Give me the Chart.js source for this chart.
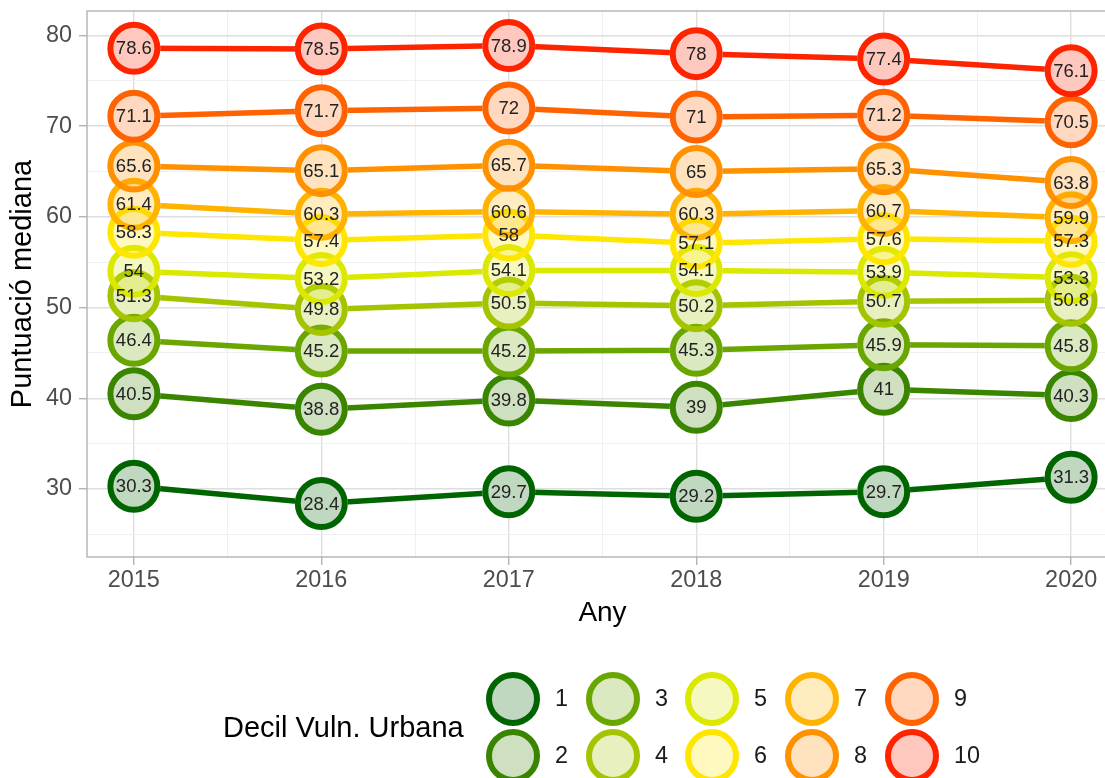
<!DOCTYPE html>
<html>
<head>
<meta charset="utf-8">
<script src="https://cdn.jsdelivr.net/npm/chart.js@4/dist/chart.umd.min.js"></script>
<style>
  html, body { margin: 0; padding: 0; background: #fff; overflow: hidden; }
  #wrap { width: 1105px; height: 778px; overflow: hidden; }
</style>
</head>
<body>
<div id="wrap"><canvas id="chart" width="1125" height="778"></canvas></div>
<script>
// ---- dades ----
const years = [2015, 2016, 2017, 2018, 2019, 2020];
const decils = ['1', '2', '3', '4', '5', '6', '7', '8', '9', '10'];
const dec1 = [30.3, 28.4, 29.7, 29.2, 29.7, 31.3];
const dec2 = [40.5, 38.8, 39.8, 39, 41, 40.3];
const dec3 = [46.4, 45.2, 45.2, 45.3, 45.9, 45.8];
const dec4 = [51.3, 49.8, 50.5, 50.2, 50.7, 50.8];
const dec5 = [54, 53.2, 54.1, 54.1, 53.9, 53.3];
const dec6 = [58.3, 57.4, 58, 57.1, 57.6, 57.3];
const dec7 = [61.4, 60.3, 60.6, 60.3, 60.7, 59.9];
const dec8 = [65.6, 65.1, 65.7, 65, 65.3, 63.8];
const dec9 = [71.1, 71.7, 72, 71, 71.2, 70.5];
const dec10 = [78.6, 78.5, 78.9, 78, 77.4, 76.1];
const yTicks = [30, 40, 50, 60, 70, 80];

const series = [dec1, dec2, dec3, dec4, dec5, dec6, dec7, dec8, dec9, dec10];
const colors = ['#006400', '#3a8500', '#6aa600', '#a4c400', '#dbe800',
                '#ffe600', '#ffb300', '#ff9100', '#ff6200', '#ff2400'];

const FONT = "'Liberation Sans', Arial, sans-serif";

function alpha(hex, a) {
  const n = parseInt(hex.slice(1), 16);
  return `rgba(${n >> 16},${(n >> 8) & 255},${n & 255},${a})`;
}

// ---- datasets: linies, base blanca, punts ----
const datasets = [];
series.forEach((vals, i) => {
  const pts = years.map((y, k) => ({ x: y, y: vals[k] }));
  datasets.push({
    data: pts, borderColor: colors[i], borderWidth: 5.5, pointRadius: 0,
    pointHoverRadius: 0, fill: false, tension: 0, order: 40
  });
  datasets.push({
    data: pts, showLine: false, pointRadius: 26.5, pointHoverRadius: 26.5,
    pointBackgroundColor: '#ffffff', pointBorderWidth: 0, order: 30
  });
  datasets.push({
    data: pts, showLine: false, pointRadius: 23.5, pointHoverRadius: 23.5,
    pointBackgroundColor: alpha(colors[i], 0.25), pointBorderColor: colors[i],
    pointBorderWidth: 6, order: 20 - i, isPoints: true, vals: vals
  });
});

// vora del panell
const panelBorder = {
  id: 'panelBorder',
  beforeDatasetsDraw(chart) {
    const { ctx, chartArea: a } = chart;
    ctx.save();
    ctx.strokeStyle = '#b3b3b3';
    ctx.lineWidth = 1.4;
    ctx.strokeRect(a.left, a.top, a.right - a.left, a.bottom - a.top);
    ctx.restore();
  }
};

// etiquetes de valor
const valueLabels = {
  id: 'valueLabels',
  afterDatasetsDraw(chart) {
    const ctx = chart.ctx;
    ctx.save();
    ctx.font = `18.5px ${FONT}`;
    ctx.fillStyle = '#222222';
    ctx.textAlign = 'center';
    ctx.textBaseline = 'middle';
    chart.data.datasets.forEach((ds, di) => {
      if (!ds.isPoints) return;
      chart.getDatasetMeta(di).data.forEach((p, k) => {
        ctx.fillText(String(ds.vals[k]), p.x, p.y + 1);
      });
    });
    ctx.restore();
  }
};

// llegenda inferior
const bottomLegend = {
  id: 'bottomLegend',
  afterDraw(chart) {
    const ctx = chart.ctx;
    const colX = [513, 613, 712, 812, 912];
    const rowY = [699, 756];
    ctx.save();
    ctx.fillStyle = '#000000';
    ctx.font = `29px ${FONT}`;
    ctx.textAlign = 'left';
    ctx.textBaseline = 'middle';
    ctx.fillText('Decil Vuln. Urbana', 223, 729);
    decils.forEach((lab, i) => {
      const cx = colX[Math.floor(i / 2)];
      const cy = rowY[i % 2];
      ctx.beginPath();
      ctx.arc(cx, cy, 27, 0, Math.PI * 2);
      ctx.fillStyle = '#ffffff';
      ctx.fill();
      ctx.beginPath();
      ctx.arc(cx, cy, 24, 0, Math.PI * 2);
      ctx.fillStyle = alpha(colors[i], 0.25);
      ctx.fill();
      ctx.lineWidth = 6;
      ctx.strokeStyle = colors[i];
      ctx.stroke();
      ctx.fillStyle = '#1a1a1a';
      ctx.font = `23.4px ${FONT}`;
      ctx.fillText(lab, cx + 42, cy + 1);
    });
    ctx.restore();
  }
};

const isMajorY = v => yTicks.includes(v);

new Chart(document.getElementById('chart'), {
  type: 'line',
  data: { datasets: datasets },
  options: {
    responsive: false,
    animation: false,
    events: [],
    layout: { autoPadding: false, padding: { top: 11, bottom: 148, left: 0, right: 7 } },
    plugins: { legend: { display: false }, tooltip: { enabled: false } },
    scales: {
      x: {
        type: 'linear',
        min: 2014.75,
        max: 2020.25,
        afterBuildTicks(scale) {
          const t = [];
          for (let v = 2015; v <= 2020; v += 0.5) t.push({ value: v });
          scale.ticks = t;
        },
        afterFit(scale) {
          scale.height = 73;
          scale.paddingLeft = 0;
          scale.paddingRight = 0;
        },
        border: { display: false },
        grid: {
          color: c => Number.isInteger(c.tick.value) ? '#dedede' : '#eeeeee',
          lineWidth: c => Number.isInteger(c.tick.value) ? 1.4 : 0.9,
          tickColor: c => Number.isInteger(c.tick.value) ? '#b3b3b3' : 'rgba(0,0,0,0)',
          tickLength: 8
        },
        ticks: {
          autoSkip: false,
          maxRotation: 0,
          padding: 2,
          color: '#4d4d4d',
          font: { family: FONT, size: 23.4 },
          callback: v => Number.isInteger(v) ? String(v) : ''
        },
        title: {
          display: true,
          text: 'Any',
          color: '#000000',
          font: { family: FONT, size: 28 },
          padding: { top: 0, bottom: 0 }
        }
      },
      y: {
        min: 22.5,
        max: 82.7,
        afterBuildTicks(scale) {
          const t = [];
          for (let v = 25; v <= 80; v += 5) t.push({ value: v });
          scale.ticks = t;
        },
        afterFit(scale) {
          scale.width = 87;
          scale.paddingTop = 0;
          scale.paddingBottom = 0;
        },
        border: { display: false },
        grid: {
          color: c => isMajorY(c.tick.value) ? '#dedede' : '#eeeeee',
          lineWidth: c => isMajorY(c.tick.value) ? 1.4 : 0.9,
          tickColor: c => isMajorY(c.tick.value) ? '#b3b3b3' : 'rgba(0,0,0,0)',
          tickLength: 8
        },
        ticks: {
          autoSkip: false,
          padding: 7,
          color: '#4d4d4d',
          font: { family: FONT, size: 23.4 },
          callback: v => isMajorY(v) ? String(v) : ''
        },
        title: {
          display: true,
          text: 'Puntuació mediana',
          color: '#000000',
          font: { family: FONT, size: 29 },
          padding: { top: 6, bottom: 0 }
        }
      }
    }
  },
  plugins: [panelBorder, valueLabels, bottomLegend]
});
</script>
</body>
</html>
